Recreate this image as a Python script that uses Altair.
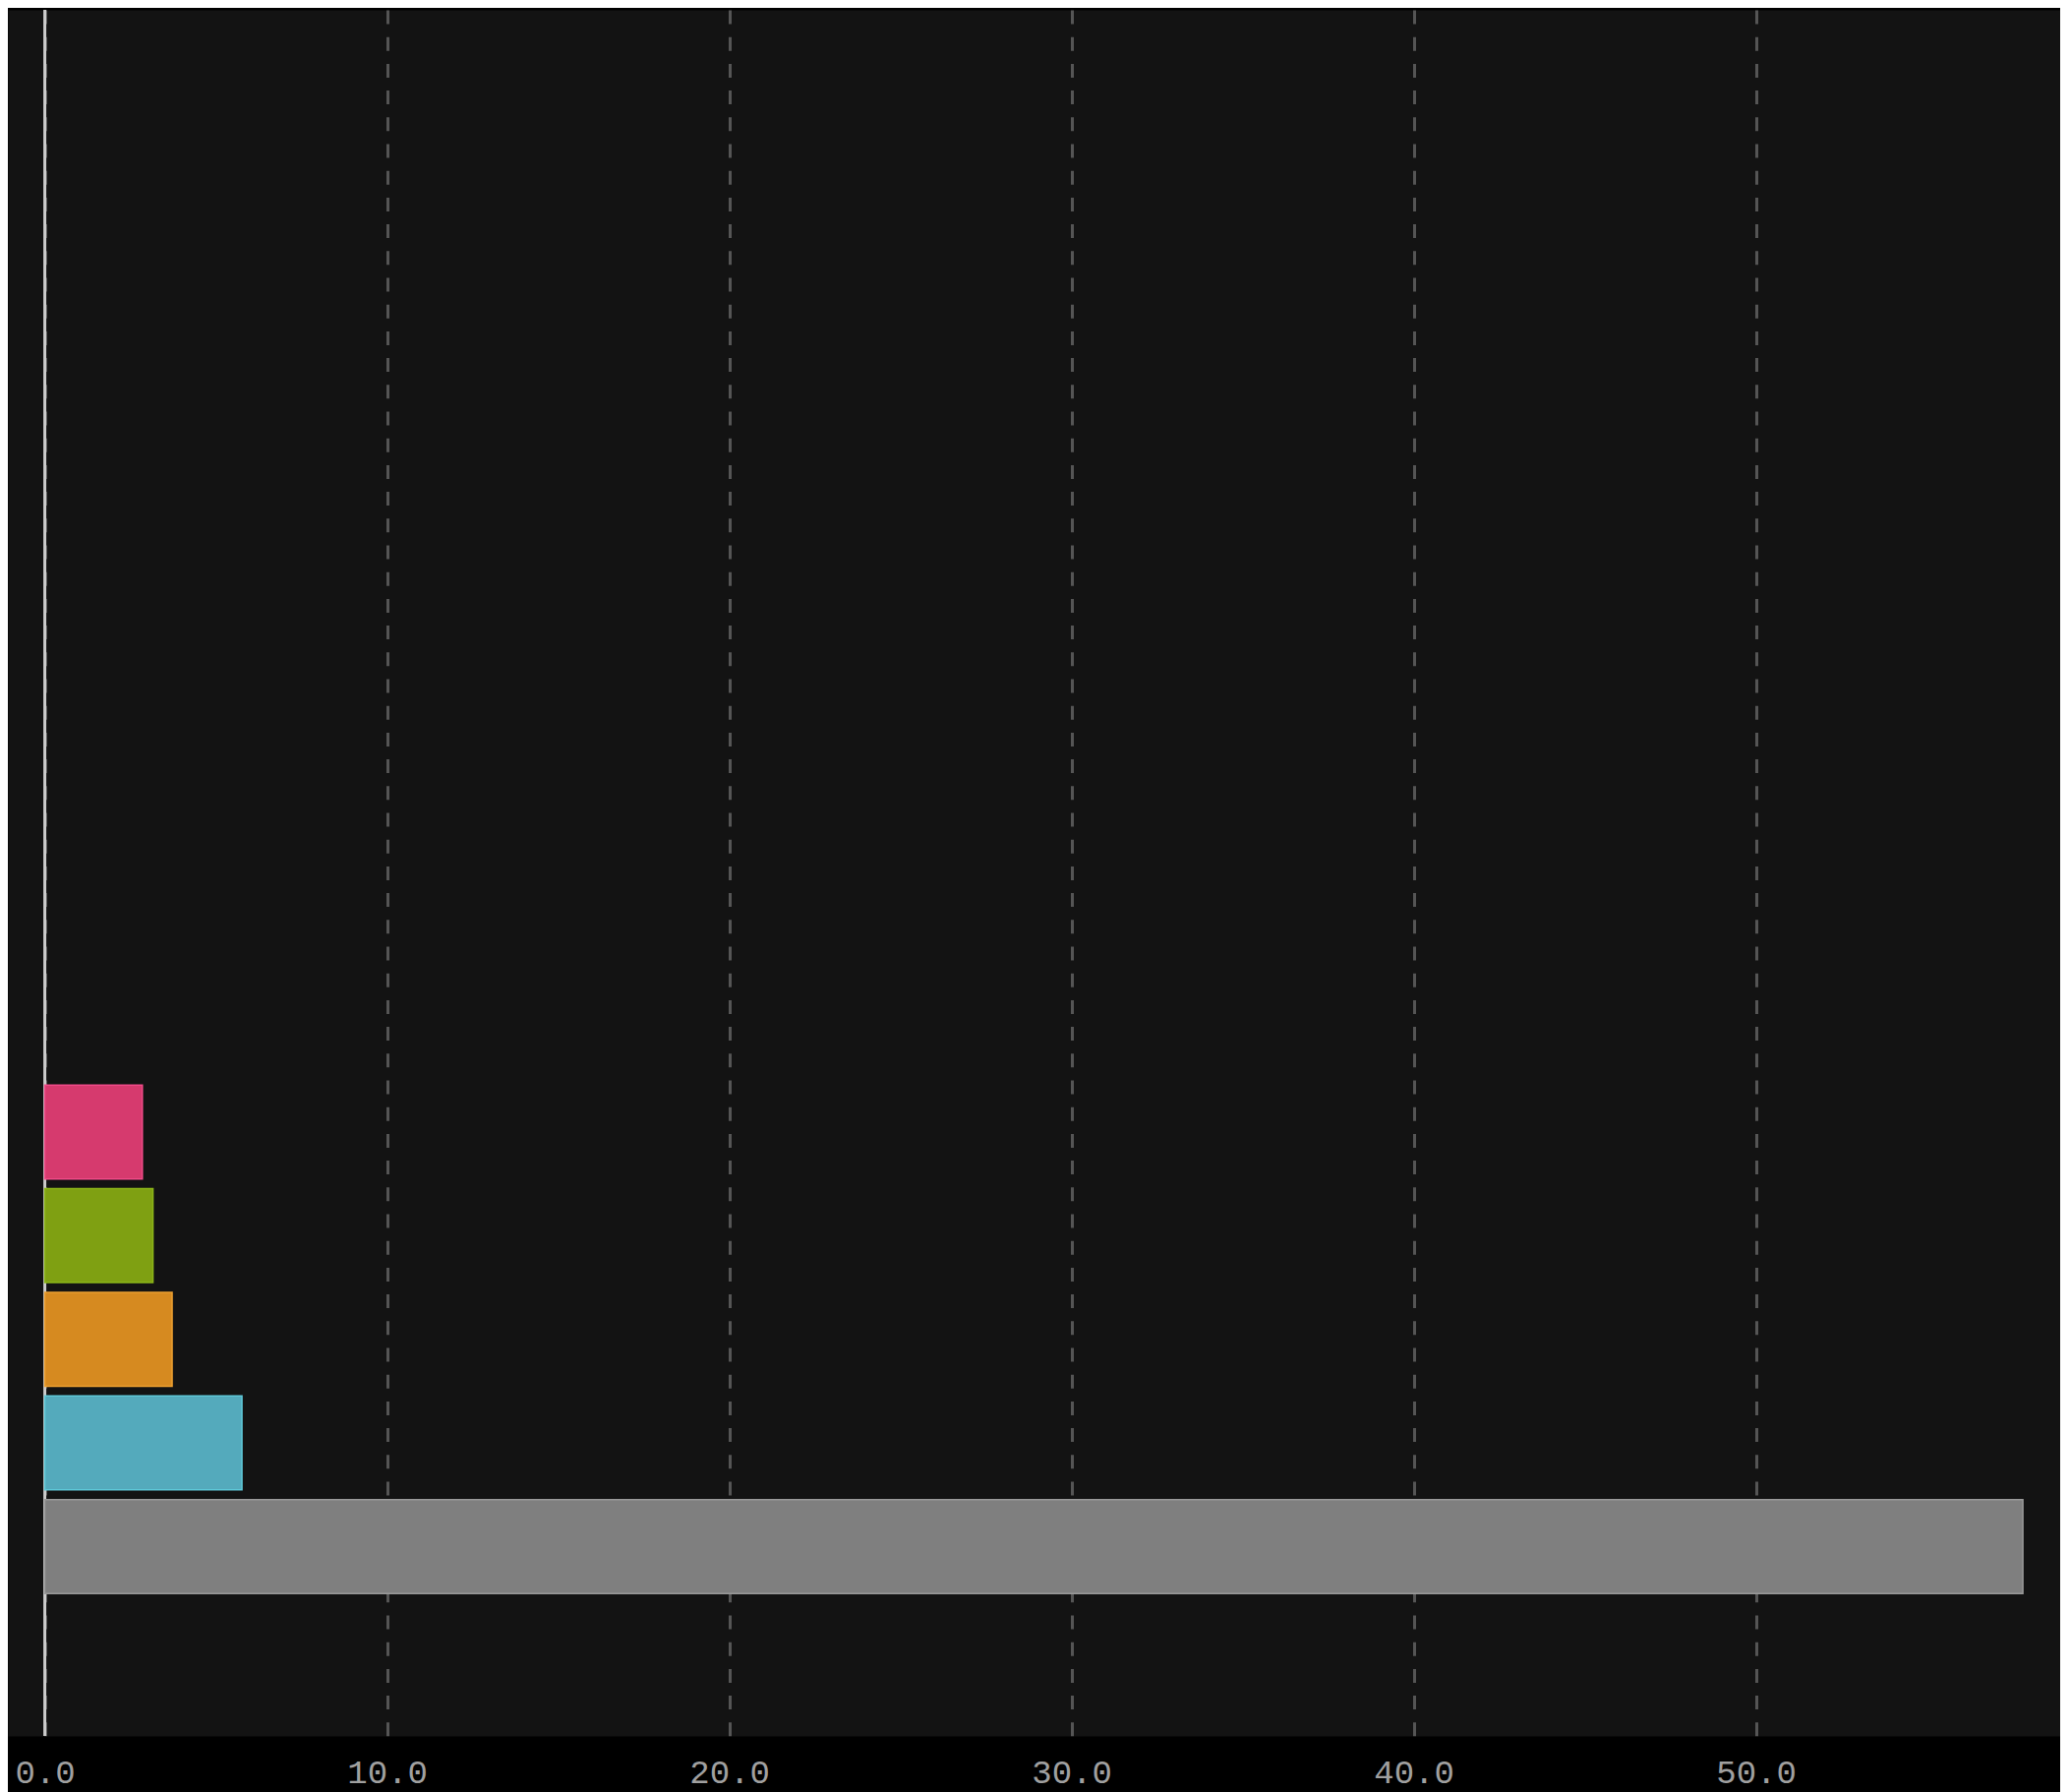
import altair as alt
import pandas as pd

# Data (bottom to top)
categories = ["E", "D", "C", "B", "A"]
values = [57.8, 5.76, 3.72, 3.16, 2.85]
slots = [0, 1, 2, 3, 4]
fill_colors = ["#7f7f7f", "#54aabc", "#d68a20", "#7fa012", "#d63a6e"]
stroke_colors = ["#9a9a9a", "#5ec8d8", "#eda030", "#8cb618", "#f04a88"]
x_ticks = [0, 10, 20, 30, 40, 50]

df = pd.DataFrame({
    "category": categories,
    "value": values,
    "slot": slots,
    "fill": fill_colors,
    "stroke": stroke_colors,
})

x_scale = alt.Scale(domain=[-1.08, 58.89], nice=False, zero=False)
y_scale = alt.Scale(domain=[-1.78, 14.78], nice=False, zero=False)

bars = alt.Chart(df).mark_bar(orient="horizontal", size=95.5, strokeWidth=1.5).encode(
    x=alt.X(
        "value:Q",
        scale=x_scale,
        axis=alt.Axis(
            values=x_ticks,
            format=".1f",
            grid=True,
            gridColor="#555555",
            gridDash=[14, 13.2],
            gridWidth=3,
            domain=False,
            ticks=False,
            labelFont="Liberation Mono",
            labelFontSize=34,
            labelColor="#a0a0a0",
            labelPadding=20,
            title=None,
        ),
    ),
    x2=alt.datum(0),
    y=alt.Y("slot:Q", scale=y_scale, axis=None),
    fill=alt.Fill("fill:N", scale=None),
    stroke=alt.Stroke("stroke:N", scale=None),
)

zero_line = alt.Chart(pd.DataFrame({"z": [0]})).mark_rule(
    color="#cccccc", strokeWidth=3
).encode(x=alt.X("z:Q", scale=x_scale))

chart = alt.layer(zero_line, bars).properties(
    width=2087,
    height=1755,
    padding={"left": 0, "top": 0, "right": 0, "bottom": 6},
    background="#000000",
).configure_view(fill="#131313", stroke="transparent")

chart.save("out.html", embed_options={"renderer": "svg", "actions": False})
